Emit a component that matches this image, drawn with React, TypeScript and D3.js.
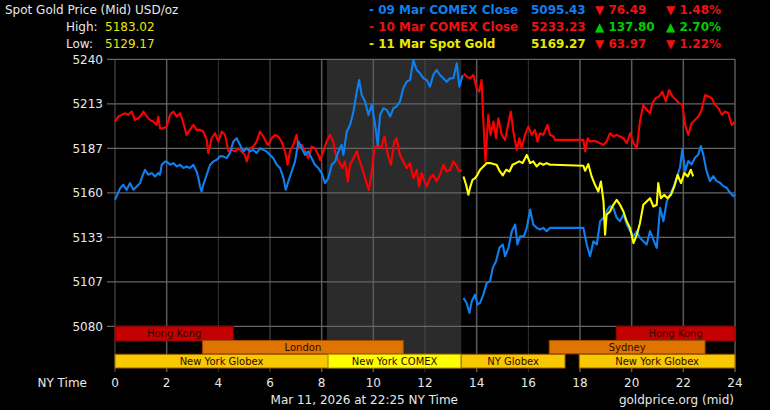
import React from "react";
import * as d3 from "d3";

type Pt = [number, number | null];

const mar09Close: Pt[] = [
  [0,5155.8],[0.2,5162.8],[0.32,5164.8],[0.45,5161.8],[0.58,5165.8],[0.71,5161.8],[0.84,5163.8],[0.97,5165.8],[1.03,5168.8],[1.16,5173.8],[1.29,5170.8],[1.42,5171.8],[1.55,5169.8],[1.68,5171.8],[1.74,5170.8],[1.81,5176.8],[1.94,5178.8],[2.0,5178.8],[2.13,5176.8],[2.26,5177.8],[2.39,5175.8],[2.52,5176.8],[2.65,5174.8],[2.77,5175.8],[2.9,5174.8],[3.03,5176.8],[3.16,5172.8],[3.23,5168.8],[3.29,5163.8],[3.35,5160.8],[3.42,5164.8],[3.55,5170.8],[3.68,5176.8],[3.81,5178.8],[3.94,5179.8],[4.06,5181.8],[4.19,5181.8],[4.32,5180.8],[4.45,5183.8],[4.58,5190.7],[4.71,5192.7],[4.84,5188.7],[4.97,5184.8],[5.1,5186.7],[5.23,5184.8],[5.35,5185.7],[5.48,5183.8],[5.61,5186.7],[5.74,5185.7],[5.87,5184.8],[6.0,5182.7],[6.13,5180.7],[6.26,5176.8],[6.39,5174.8],[6.52,5168.8],[6.61,5161.8],[6.71,5166.8],[6.84,5172.8],[6.97,5178.8],[7.1,5190.7],[7.23,5186.7],[7.36,5182.7],[7.48,5184.8],[7.61,5180.7],[7.74,5176.8],[7.87,5174.8],[8.0,5171.8],[8.13,5165.8],[8.26,5168.8],[8.39,5176.8],[8.52,5178.8],[8.65,5184.8],[8.77,5188.7],[8.84,5182.7],[8.97,5196.7],[9.1,5200.7],[9.23,5208.7],[9.36,5220.6],[9.45,5227.6],[9.55,5218.6],[9.68,5214.7],[9.81,5206.7],[9.94,5212.7],[10.07,5200.7],[10.17,5188.7],[10.26,5206.7],[10.39,5210.7],[10.52,5209.7],[10.65,5205.7],[10.78,5210.7],[10.9,5211.7],[11.03,5214.7],[11.16,5222.6],[11.29,5226.6],[11.42,5227.6],[11.55,5239.6],[11.68,5233.6],[11.81,5231.6],[11.94,5228.6],[12.07,5227.6],[12.19,5223.6],[12.32,5230.6],[12.45,5233.6],[12.58,5230.6],[12.71,5228.6],[12.84,5226.6],[12.97,5228.6],[13.1,5228.6],[13.23,5237.6],[13.33,5223.6],[13.46,5230.6],[13.47,null],
  [13.49,5097],[13.61,5094],[13.72,5088],[13.81,5095],[13.94,5099],[14.03,5093],[14.13,5094],[14.26,5099],[14.39,5106],[14.52,5107],[14.62,5115],[14.75,5119],[14.88,5127],[15.01,5129],[15.1,5122],[15.23,5127],[15.36,5137],[15.49,5141],[15.58,5129],[15.68,5134],[15.83,5134],[15.94,5139],[16.07,5150],[16.19,5141],[16.32,5139],[16.45,5138],[16.58,5139],[16.71,5137],[16.84,5139],[16.97,5139],[18.13,5139],[18.26,5129],[18.39,5122],[18.52,5131],[18.65,5129],[18.78,5143],[18.91,5145],[19.03,5149],[19.16,5152],[19.29,5151],[19.42,5145],[19.55,5143],[19.68,5147],[19.81,5141],[19.94,5137],[20.07,5134],[20.2,5137],[20.32,5133],[20.45,5131],[20.58,5129],[20.71,5137],[20.84,5132],[20.97,5127],[21.1,5151],[21.23,5143],[21.36,5155],[21.49,5159],[21.61,5163],[21.74,5169],[21.87,5175],[21.96,5186],[22.07,5173],[22.19,5179],[22.32,5177],[22.45,5181],[22.58,5183],[22.68,5188],[22.77,5183],[22.9,5173],[23.03,5167],[23.16,5170],[23.29,5167],[23.42,5166],[23.55,5164],[23.68,5163],[23.81,5160],[23.94,5158],[24,5159],
];

const mar10Close: Pt[] = [
  [0,5202.7],[0.13,5205.7],[0.26,5206.7],[0.39,5207.7],[0.52,5206.7],[0.65,5208.7],[0.77,5203.7],[0.9,5204.7],[1.03,5206.7],[1.1,5208.7],[1.23,5205.7],[1.35,5203.7],[1.48,5202.7],[1.61,5200.7],[1.68,5205.7],[1.74,5198.7],[1.87,5198.7],[2.0,5199.7],[2.13,5206.7],[2.26,5208.7],[2.39,5205.7],[2.52,5207.7],[2.65,5201.7],[2.77,5194.7],[2.9,5197.7],[3.03,5200.7],[3.16,5197.7],[3.29,5197.7],[3.42,5196.7],[3.55,5191.7],[3.61,5183.7],[3.74,5192.7],[3.87,5195.7],[4.0,5190.7],[4.13,5196.7],[4.26,5194.7],[4.39,5184.8],[4.52,5185.7],[4.65,5184.8],[4.77,5186.7],[4.9,5184.8],[5.03,5182.7],[5.1,5178.8],[5.23,5186.7],[5.35,5187.7],[5.48,5190.7],[5.61,5196.7],[5.74,5193.7],[5.87,5189.7],[5.94,5188.7],[6.06,5192.7],[6.19,5194.7],[6.32,5193.7],[6.45,5190.7],[6.58,5184.8],[6.68,5176.8],[6.77,5184.8],[6.9,5188.7],[7.03,5194.7],[7.1,5186.7],[7.23,5188.7],[7.36,5184.8],[7.48,5180.7],[7.61,5187.7],[7.74,5186.7],[7.87,5182.7],[7.94,5179.7],[8.06,5184.8],[8.19,5190.7],[8.32,5194.7],[8.45,5190.7],[8.54,5182.7],[8.67,5178.8],[8.8,5174.8],[8.9,5178.8],[9.01,5166.8],[9.1,5176.8],[9.23,5180.7],[9.36,5184.8],[9.48,5178.8],[9.61,5172.8],[9.74,5165.8],[9.83,5161.8],[9.94,5172.8],[10.04,5186.7],[10.17,5188.7],[10.3,5186.7],[10.43,5193.7],[10.56,5182.7],[10.68,5176.8],[10.81,5190.7],[10.9,5192.7],[11.03,5182.7],[11.16,5178.8],[11.29,5174.8],[11.42,5177.8],[11.55,5168.8],[11.68,5173.8],[11.77,5163.8],[11.87,5171.8],[11.94,5168.8],[12.07,5163.8],[12.19,5168.8],[12.32,5170.8],[12.45,5166.8],[12.58,5170.8],[12.71,5176.8],[12.84,5172.8],[12.97,5173.8],[13.1,5178.8],[13.23,5175.8],[13.33,5172.8],[13.42,5173.8],[13.47,null],
  [13.51,5231.6],[13.61,5229.6],[13.74,5228.6],[13.87,5230.6],[14.0,5222.6],[14.1,5220.6],[14.19,5227.6],[14.26,5202.7],[14.34,5178.8],[14.45,5206.7],[14.54,5194.7],[14.65,5202.7],[14.75,5192.7],[14.84,5204.7],[14.97,5194.7],[15.1,5191.7],[15.19,5198.7],[15.32,5208.7],[15.42,5196.7],[15.55,5185.7],[15.65,5192.7],[15.74,5186.7],[15.87,5194.7],[16.0,5199.7],[16.13,5194.7],[16.26,5197.7],[16.35,5190.7],[16.45,5195.7],[16.58,5194.7],[16.74,5200.7],[16.84,5194.7],[16.97,5193.7],[17.03,5191.7],[18.13,5191.7],[18.2,5184.8],[18.3,5192.7],[18.39,5190.7],[18.52,5191.1],[18.65,5190.7],[18.78,5189.7],[18.91,5188.7],[19.03,5190.7],[19.16,5195.7],[19.29,5193.7],[19.42,5194.7],[19.55,5193.7],[19.68,5192.7],[19.81,5189.7],[19.94,5195.7],[20.07,5189.7],[20.2,5186.7],[20.32,5202.7],[20.45,5212.7],[20.58,5209.7],[20.71,5207.7],[20.8,5213.7],[20.93,5216.7],[21.06,5217.7],[21.19,5220.6],[21.32,5214.7],[21.45,5221.6],[21.58,5217.7],[21.71,5215.7],[21.84,5213.7],[21.96,5212.7],[22.07,5200.7],[22.19,5194.7],[22.32,5201.7],[22.45,5203.7],[22.58,5205.7],[22.71,5209.7],[22.84,5218.6],[22.97,5217.7],[23.1,5216.7],[23.23,5212.7],[23.36,5210.7],[23.49,5206.7],[23.62,5208.7],[23.74,5207.7],[23.87,5200.7],[24,5202.7],
];

const mar11Spot: Pt[] = [
  [13.49,5169.8],[13.59,5164.8],[13.68,5158.8],[13.74,5162.8],[13.84,5167.8],[13.94,5168.8],[14.03,5170.8],[14.13,5173.8],[14.26,5175.8],[14.39,5177.8],[14.52,5177.8],[14.65,5177.2],[14.77,5176.8],[14.9,5172.8],[15.01,5170.4],[15.14,5173.8],[15.27,5172.8],[15.39,5176.8],[15.52,5177.8],[15.65,5178.8],[15.78,5177.8],[15.94,5182.7],[16.07,5177.8],[16.19,5178.8],[16.32,5175.8],[16.45,5177.8],[16.58,5176.8],[16.71,5177.8],[16.84,5176.8],[16.97,5176.8],[18.13,5176.2],[18.2,5173.2],[18.32,5177.2],[18.45,5169.8],[18.58,5164.8],[18.71,5160.8],[18.81,5166.8],[18.91,5154.8],[18.97,5134.9],[19.03,5146.8],[19.16,5148.8],[19.29,5152.8],[19.42,5155.8],[19.55,5152.8],[19.68,5148.8],[19.81,5142.8],[19.94,5138.8],[20.07,5129.9],[20.2,5134.9],[20.32,5141.8],[20.45,5152.8],[20.58,5154.8],[20.71,5156.8],[20.84,5151.8],[20.97,5152.8],[21.03,5165.8],[21.13,5156.8],[21.26,5158.8],[21.39,5156.8],[21.52,5158.8],[21.65,5163.8],[21.78,5170.8],[21.91,5165.8],[22.04,5171.8],[22.17,5169.8],[22.29,5173.8],[22.38,5169.8],
];

const yTicks = [5080, 5106.67, 5133.33, 5160, 5186.67, 5213.33, 5240];
const yTickLabels = ["5080", "5107", "5133", "5160", "5187", "5213", "5240"];
const xTicks = [0, 2, 4, 6, 8, 10, 12, 14, 16, 18, 20, 22, 24];
const dottedHours = [4, 12, 16];
const darkHours = [0, 6];

const comexShade = [8.2, 13.4];

const sessionNames = ["Hong Kong", "Hong Kong", "London", "Sydney", "New York Globex", "New York COMEX", "NY Globex", "New York Globex"];
const sessionRows = [0, 0, 1, 1, 2, 2, 2, 2];
const sessionStarts = [0, 19.4, 3.39, 16.81, 0, 8.25, 13.4, 17.97];
const sessionEnds = [4.58, 24, 11.16, 22.84, 8.25, 13.4, 17.42, 24];
const sessionKinds = ["hk", "hk", "ldn", "ldn", "ny", "comex", "ny", "ny"];

const legendNames = ["- 09 Mar COMEX Close", "- 10 Mar COMEX Close", "- 11 Mar Spot Gold"];
const legendPrices = ["5095.43", "5233.23", "5169.27"];
const legendChanges = ["76.49", "137.80", "63.97"];
const legendPercents = ["1.48%", "2.70%", "1.22%"];
const legendUp = [false, true, false];

const highValue = "5183.02";
const lowValue = "5129.17";

const BLUE = "#0f7ff0";
const RED = "#ff0000";
const YELLOW = "#ffff00";

export default function App() {
  const W = 770, H = 410;
  const x = d3.scaleLinear().domain([0, 24]).range([115, 735]);
  const y = d3.scaleLinear().domain([5080, 5240]).range([326.3, 59.3]);
  const line = d3
    .line<Pt>()
    .defined((d) => d[1] != null)
    .x((d) => x(d[0]))
    .y((d) => y(d[1] as number));

  const rowY = [326.5, 340.5, 354.3];
  const rowH = [14.5, 13.3, 13.7];
  const fills: Record<string, string> = { hk: "#c40000", ldn: "#e07400", ny: "#f8c800", comex: "#ffff00" };
  const strokes: Record<string, string> = { hk: "#8a0000", ldn: "#a04a00", ny: "#a06000", comex: "#c0a000" };
  const font = "'DejaVu Sans', Verdana, sans-serif";
  const legendColors = [BLUE, "#ee1111", "#e8e800"];

  return (
    <svg width={W} height={H} style={{ position: "absolute", left: 0, top: 0, background: "#000" }} fontFamily={font}>
      <rect x={0} y={0} width={W} height={H} fill="#000" />
      <rect x={x(comexShade[0])} y={59.3} width={x(comexShade[1]) - x(comexShade[0])} height={368.3 - 59.3} fill="#2b2b2b" />
      {xTicks.map((t) => (
        <line
          key={"vg" + t}
          x1={x(t)}
          x2={x(t)}
          y1={59.3}
          y2={372}
          stroke={darkHours.includes(t) ? "#383838" : dottedHours.includes(t) ? "#6a6a6a" : "#5a5a5a"}
          strokeWidth={dottedHours.includes(t) ? 1 : 1.5}
          strokeDasharray={dottedHours.includes(t) ? "1,1" : undefined}
        />
      ))}
      {yTicks.map((t) => (
        <line key={"hg" + t} x1={107} x2={735} y1={y(t)} y2={y(t)} stroke="#666" strokeWidth={1.3} />
      ))}
      {yTicks.map((t, i) => (
        <text key={"yl" + t} x={103} y={y(t) + 4.5} fill="#e8e8e8" fontSize={12} textAnchor="end">
          {yTickLabels[i]}
        </text>
      ))}
      {sessionNames.map((n, i) => {
        const r = sessionRows[i];
        const k = sessionKinds[i];
        const x0 = x(sessionStarts[i]);
        const x1 = x(sessionEnds[i]);
        return (
          <g key={"s" + i}>
            <rect x={x0} y={rowY[r]} width={x1 - x0} height={rowH[r]} fill={fills[k]} stroke={strokes[k]} strokeWidth={1} />
            <text x={(x0 + x1) / 2} y={rowY[r] + rowH[r] / 2 + 3.5} fontSize={10} fill="#300800" textAnchor="middle">
              {n}
            </text>
          </g>
        );
      })}
      <path d={line(mar10Close) || ""} fill="none" stroke={RED} strokeWidth={2.1} strokeLinejoin="round" />
      <path d={line(mar09Close) || ""} fill="none" stroke={BLUE} strokeWidth={2.1} strokeLinejoin="round" />
      <path d={line(mar11Spot) || ""} fill="none" stroke={YELLOW} strokeWidth={2.1} strokeLinejoin="round" />
      {xTicks.map((t) => (
        <text key={"xl" + t} x={x(t)} y={387} fill="#e8e8e8" fontSize={12} textAnchor="middle">
          {t}
        </text>
      ))}
      <text x={87} y={387} fill="#e8e8e8" fontSize={12} textAnchor="end">NY Time</text>
      <text x={458} y={404} fill="#e8e8e8" fontSize={12} textAnchor="end">Mar 11, 2026 at 22:25 NY Time</text>
      <text x={734} y={404} fill="#e8e8e8" fontSize={12} textAnchor="end">goldprice.org (mid)</text>
      <text x={5} y={14} fill="#e8e8e8" fontSize={12}>Spot Gold Price (Mid) USD/oz</text>
      <text x={66} y={30.5} fill="#e8e8e8" fontSize={12}>High:</text>
      <text x={105} y={30.5} fill="#e8e800" fontSize={12}>{highValue}</text>
      <text x={66} y={47.5} fill="#e8e8e8" fontSize={12}>Low:</text>
      <text x={105} y={47.5} fill="#e8e800" fontSize={12}>{lowValue}</text>
      {legendNames.map((n, i) => {
        const yy = 14 + i * 17;
        const cc = legendUp[i] ? "#00cc00" : "#ee1111";
        const tri = legendUp[i] ? "▲" : "▼";
        return (
          <g key={"lg" + i} fontWeight="bold" fontSize={12}>
            <text x={369} y={yy} fill={legendColors[i]}>{n}</text>
            <text x={531} y={yy} fill={legendColors[i]}>{legendPrices[i]}</text>
            <text x={595} y={yy} fill={cc}>{tri + " " + legendChanges[i]}</text>
            <text x={666} y={yy} fill={cc}>{tri + " " + legendPercents[i]}</text>
          </g>
        );
      })}
    </svg>
  );
}
